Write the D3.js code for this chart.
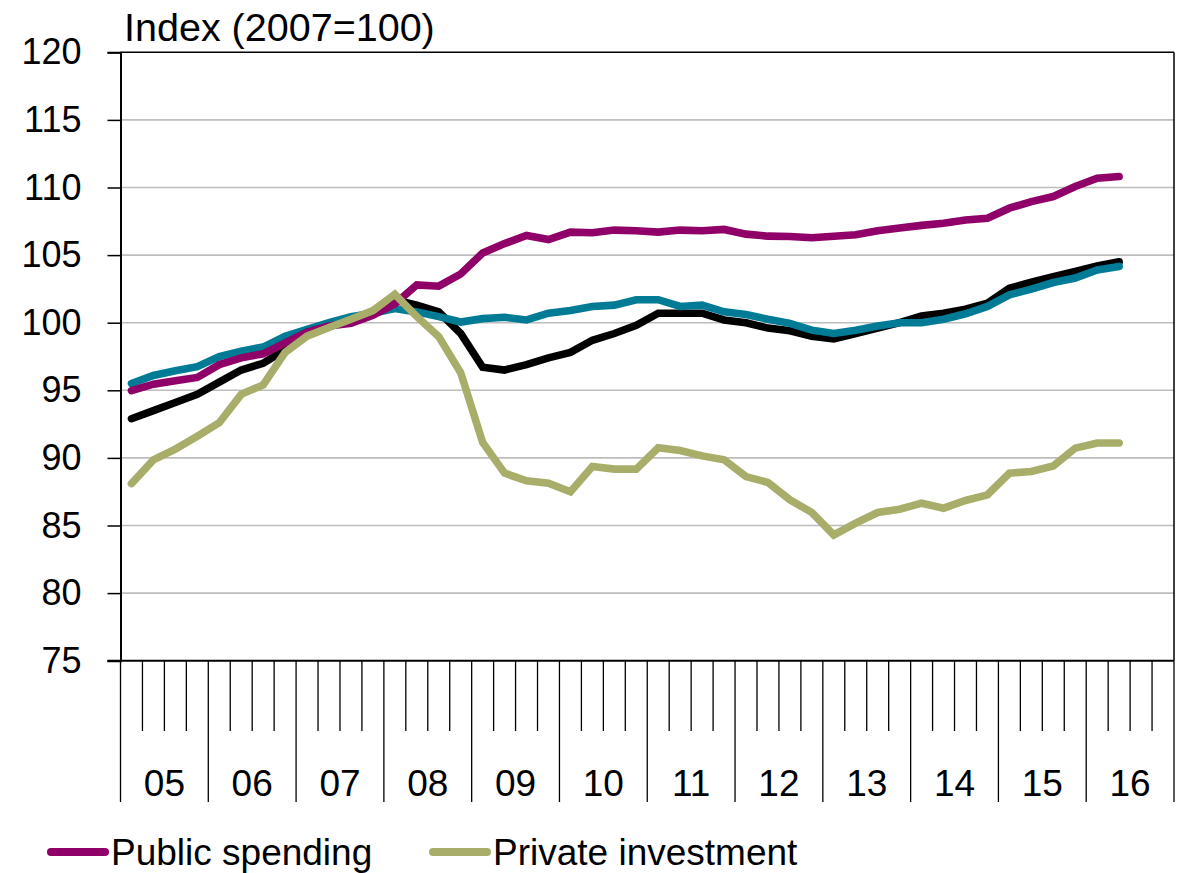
<!DOCTYPE html>
<html>
<head>
<meta charset="utf-8">
<script src="https://cdn.jsdelivr.net/npm/d3@7"></script>
<style>
  html, body { margin: 0; padding: 0; background: #fff; }
  svg text { font-family: Arial, "Liberation Sans", sans-serif; fill: #000; }
</style>
</head>
<body>
<svg id="chart" width="1183" height="873"></svg>
<script>
// ---- data ----
const years = ["05","06","07","08","09","10","11","12","13","14","15","16"];
const quarters = [
  "2005Q1","2005Q2","2005Q3","2005Q4","2006Q1","2006Q2","2006Q3","2006Q4",
  "2007Q1","2007Q2","2007Q3","2007Q4","2008Q1","2008Q2","2008Q3","2008Q4",
  "2009Q1","2009Q2","2009Q3","2009Q4","2010Q1","2010Q2","2010Q3","2010Q4",
  "2011Q1","2011Q2","2011Q3","2011Q4","2012Q1","2012Q2","2012Q3","2012Q4",
  "2013Q1","2013Q2","2013Q3","2013Q4","2014Q1","2014Q2","2014Q3","2014Q4",
  "2015Q1","2015Q2","2015Q3","2015Q4","2016Q1","2016Q2"
];
const gdp = [
  92.9, 93.5, 94.1, 94.7, 95.6, 96.5, 97.0, 98.0, 99.1, 99.8, 100.3, 100.8,
  101.7, 101.3, 100.8, 99.2, 96.7, 96.5, 96.9, 97.4, 97.8, 98.7, 99.2, 99.8,
  100.7, 100.7, 100.7, 100.2, 100.0, 99.6, 99.4, 99.0, 98.8, 99.2, 99.6, 100.0,
  100.5, 100.7, 101.0, 101.45, 102.55, 103.0, 103.4, 103.8, 104.2, 104.5
];
const consumption = [
  95.5, 96.1, 96.45, 96.75, 97.5, 97.9, 98.2, 99.0, 99.5, 100.0, 100.45, 100.7,
  101.05, 100.8, 100.45, 100.05, 100.3, 100.4, 100.2, 100.7, 100.9, 101.2, 101.3, 101.7,
  101.7, 101.2, 101.3, 100.8, 100.6, 100.25, 99.95, 99.45, 99.2, 99.45, 99.75, 100.0,
  100.0, 100.26, 100.66, 101.2, 102.06, 102.48, 102.97, 103.3, 103.9, 104.16
];
const publicSpending = [
  94.97, 95.45, 95.7, 95.95, 96.9, 97.4, 97.7, 98.5, 99.3, 99.75, 99.95, 100.55,
  101.4, 102.8, 102.7, 103.6, 105.15, 105.85, 106.45, 106.15, 106.7, 106.65, 106.85, 106.8,
  106.7, 106.85, 106.8, 106.9, 106.55, 106.4, 106.38, 106.28, 106.4, 106.5, 106.8, 107.0,
  107.2, 107.36, 107.6, 107.73, 108.47, 108.96, 109.33, 110.07, 110.69, 110.81
];
const privateInvestment = [
  88.1, 89.85, 90.65, 91.6, 92.6, 94.7, 95.4, 97.8, 99.0, 99.65, 100.25, 100.9,
  102.1, 100.45, 98.97, 96.3, 91.15, 88.87, 88.3, 88.13, 87.5, 89.36, 89.17, 89.17,
  90.75, 90.55, 90.15, 89.86, 88.62, 88.18, 86.9, 85.96, 84.3, 85.17, 85.96, 86.2,
  86.65, 86.28, 86.85, 87.27, 88.87, 89.0, 89.4, 90.72, 91.1, 91.1
];
const yTicks = [75, 80, 85, 90, 95, 100, 105, 110, 115, 120];
const seriesNames = ["GDP", "Private consumption", "Public spending", "Private investment"];
const seriesColors = ["#000000", "#007b96", "#8f0068", "#a8ae6a"];
const legendNames = ["Public spending", "Private investment"];
const legendColors = ["#8f0068", "#a8ae6a"];

// ---- layout ----
const svg = d3.select("#chart");
const plotLeft = 120.5, plotRight = 1174, plotTop = 52.3, plotBottom = 660.7;
const nQuarters = years.length * 4;

const x = d3.scaleLinear().domain([0, nQuarters]).range([plotLeft, plotRight]);
const y = d3.scaleLinear().domain([75, 120]).range([plotBottom, plotTop]);

// gridlines
svg.append("g").selectAll("line")
  .data(yTicks.filter(v => v > 75 && v < 120))
  .join("line")
  .attr("x1", plotLeft).attr("x2", plotRight)
  .attr("y1", d => y(d)).attr("y2", d => y(d))
  .attr("stroke", "#bdbdbd").attr("stroke-width", 1.6);

// frame: top and right
svg.append("line").attr("x1", plotLeft).attr("x2", plotRight).attr("y1", plotTop).attr("y2", plotTop)
  .attr("stroke", "#000").attr("stroke-width", 1.5);
svg.append("line").attr("x1", plotRight).attr("x2", plotRight).attr("y1", plotTop).attr("y2", plotBottom)
  .attr("stroke", "#000").attr("stroke-width", 1.5);

// y axis
const yAxis = d3.axisLeft(y).tickValues(yTicks).tickSize(13).tickPadding(26);
const gy = svg.append("g").attr("transform", `translate(${plotLeft},0)`).call(yAxis);
gy.select(".domain").attr("stroke", "#000").attr("stroke-width", 2);
gy.selectAll(".tick line").attr("stroke", "#000").attr("stroke-width", 1.5);
gy.selectAll(".tick text").style("font-size", "36px").attr("font-family", "Arial, 'Liberation Sans', sans-serif");

// x axis: quarter ticks (short) and year ticks (long)
const qTicks = d3.range(0, nQuarters + 1);
svg.append("g").selectAll("line")
  .data(qTicks)
  .join("line")
  .attr("x1", d => x(d)).attr("x2", d => x(d))
  .attr("y1", plotBottom)
  .attr("y2", d => d % 4 === 0 ? 802 : 731)
  .attr("stroke", "#000").attr("stroke-width", 1.3);
svg.append("line").attr("x1", plotLeft - 13).attr("x2", plotRight).attr("y1", plotBottom).attr("y2", plotBottom)
  .attr("stroke", "#000").attr("stroke-width", 2);

svg.append("g").selectAll("text")
  .data(years)
  .join("text")
  .attr("x", (d, i) => x(i * 4 + 2))
  .attr("y", 796)
  .attr("text-anchor", "middle")
  .style("font-size", "37px")
  .text(d => d);

// title
svg.append("text").attr("x", 124).attr("y", 41)
  .style("font-size", "39.5px").text("Index (2007=100)");

// lines
const allSeries = [gdp, consumption, publicSpending, privateInvestment];
const line = d3.line().x((d, i) => x(i + 0.5)).y(d => y(d));
svg.append("g").selectAll("path")
  .data(allSeries)
  .join("path")
  .attr("d", d => line(d))
  .attr("fill", "none")
  .attr("stroke", (d, i) => seriesColors[i])
  .attr("stroke-width", 7.6)
  .attr("stroke-linecap", "round")
  .attr("stroke-linejoin", "miter");

// legend
const legendX = [51, 433];
const lg = svg.append("g").selectAll("g").data(legendNames).join("g")
  .attr("transform", (d, i) => `translate(${legendX[i]},852)`);
lg.append("line").attr("x1", 0).attr("x2", 54).attr("y1", 0).attr("y2", 0)
  .attr("stroke", (d, i) => legendColors[i]).attr("stroke-width", 8)
  .attr("stroke-linecap", "round");
lg.append("text").attr("x", 60).attr("y", 13)
  .style("font-size", "37px").text(d => d);
</script>
</body>
</html>
